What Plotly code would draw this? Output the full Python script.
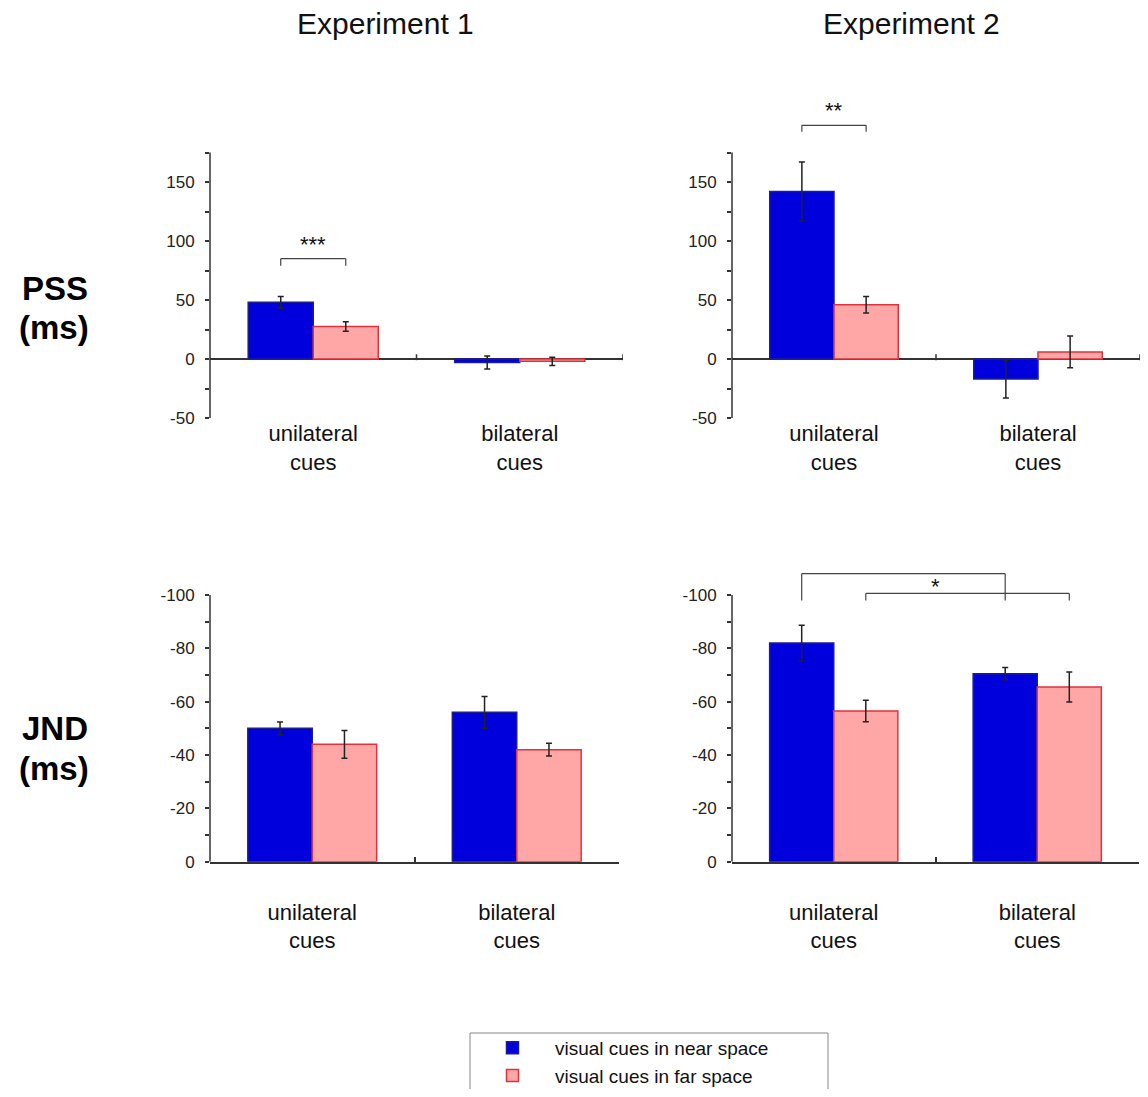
import plotly.graph_objects as go

PAGE_W, PAGE_H = 1148, 1097
BODY = 8  # default page margin around the plot div
W, H = PAGE_W - 2 * BODY, PAGE_H - 2 * BODY
FONT = "Arial, 'Liberation Sans', sans-serif"

# ---------------- data ----------------
categories = ["unilateral<br>cues", "bilateral<br>cues"]
series_names = ["visual cues in near space", "visual cues in far space"]
experiments = ["Experiment 1", "Experiment 2"]

pss_exp1_near = [48, -3]
pss_exp1_near_err = [5, 5.5]
pss_exp1_far = [27.5, -2]
pss_exp1_far_err = [4, 3.5]

pss_exp2_near = [142, -17]
pss_exp2_near_err = [25, 16]
pss_exp2_far = [46, 6]
pss_exp2_far_err = [7, 13.5]

jnd_exp1_near = [-50, -56]
jnd_exp1_near_err = [2.4, 6]
jnd_exp1_far = [-44, -42]
jnd_exp1_far_err = [5.2, 2.4]

jnd_exp2_near = [-82, -70.5]
jnd_exp2_near_err = [6.7, 2.3]
jnd_exp2_far = [-56.5, -65.5]
jnd_exp2_far_err = [4, 5.6]

pss_tickvals = [-50, 0, 50, 100, 150]
pss_minor_tickvals = [-25, 25, 75, 125, 175]
jnd_tickvals = [-100, -80, -60, -40, -20, 0]
jnd_minor_tickvals = [-90, -70, -50, -30, -10]

# ---------------- style ----------------
NEAR_FILL, NEAR_LINE = "#0000dc", "#1c1c96"
FAR_FILL, FAR_LINE = "#ffa6a6", "#e0323c"
AX = "#333333"
BARGAP = 0.37
HALF = (1 - BARGAP) / 4  # offset of a bar centre from its category centre


def px_x(p):
    """page pixel -> paper fraction"""
    return min(1.0, max(0.0, (p - BODY) / W))


def px_y(p):
    return 1 - (p - BODY) / H


panels = [
    (pss_exp1_near, pss_exp1_near_err, pss_exp1_far, pss_exp1_far_err, (210, 623), "pss"),
    (pss_exp2_near, pss_exp2_near_err, pss_exp2_far, pss_exp2_far_err, (732, 1140), "pss"),
    (jnd_exp1_near, jnd_exp1_near_err, jnd_exp1_far, jnd_exp1_far_err, (210, 619), "jnd"),
    (jnd_exp2_near, jnd_exp2_near_err, jnd_exp2_far, jnd_exp2_far_err, (732, 1139), "jnd"),
]

# vertical layout of the two rows (page pixel of value 0 and px per unit)
PSS_ZERO, PSS_SCALE, PSS_RANGE = 359, 59 / 50, [-50, 222]
JND_ZERO, JND_SCALE, JND_RANGE = 861.7, 53.33 / 20, [0, -112]

fig = go.Figure()
shapes = []
annotations = []

for k, (near, near_err, far, far_err, (xl, xr), kind) in enumerate(panels, start=1):
    xa = "x" if k == 1 else f"x{k}"
    ya = "y" if k == 1 else f"y{k}"
    for vals, errs, name, fill, line in [
        (near, near_err, series_names[0], NEAR_FILL, NEAR_LINE),
        (far, far_err, series_names[1], FAR_FILL, FAR_LINE),
    ]:
        fig.add_trace(go.Bar(
            x=categories, y=vals, name=name, xaxis=xa, yaxis=ya,
            marker=dict(color=fill, line=dict(color=line, width=1.5)),
            error_y=dict(type="data", array=errs, color="#222222", thickness=1.5, width=3),
            showlegend=(k == 1), legendgroup=name,
        ))

    if kind == "pss":
        zero, scale, rng = PSS_ZERO, PSS_SCALE, PSS_RANGE
        top_px = zero - rng[1] * scale
        bot_px = zero - rng[0] * scale
        tickvals, minor_vals = pss_tickvals, pss_minor_tickvals
        spine = (-50, 175)
    else:
        zero, scale, rng = JND_ZERO, JND_SCALE, JND_RANGE
        top_px = zero + rng[1] * scale
        bot_px = zero
        tickvals, minor_vals = jnd_tickvals, jnd_minor_tickvals
        spine = (0, -100)

    xkey = "xaxis" if k == 1 else f"xaxis{k}"
    ykey = "yaxis" if k == 1 else f"yaxis{k}"
    xaxis = dict(
        domain=[px_x(xl), px_x(xr)], type="category", range=[-0.5, 1.5],
        anchor=ya, showgrid=False, zeroline=False,
        tickfont=dict(size=22, color="#111111", family=FONT),
        fixedrange=True,
    )
    if kind == "pss":
        xaxis.update(showline=False, ticks="", ticklabelstandoff=0)
    else:
        xaxis.update(showline=True, linecolor=AX, linewidth=1.5, ticks="inside",
                     tickson="boundaries", ticklen=5, tickwidth=1.5, tickcolor=AX,
                     ticklabelstandoff=30)
    yaxis = dict(
        domain=[px_y(bot_px), px_y(top_px)], range=rng, anchor=xa,
        showgrid=False, showline=False,
        zeroline=(kind == "pss"), zerolinecolor=AX, zerolinewidth=1.5,
        tickmode="array", tickvals=tickvals, ticktext=[str(v) for v in tickvals],
        ticks="outside", ticklen=4, tickwidth=1.5, tickcolor=AX,
        minor=dict(tickmode="array", tickvals=minor_vals, ticks="outside",
                   ticklen=4, tickwidth=1.5, tickcolor=AX, showgrid=False),
        tickfont=dict(size=17, color="#222222", family=FONT),
        ticklabelstandoff=7, fixedrange=True,
    )
    fig.update_layout({xkey: xaxis, ykey: yaxis})

    # y spine limited to the labelled range
    shapes.append(dict(type="line", xref=f"{xa} domain", yref=ya, x0=0, x1=0,
                       y0=spine[0], y1=spine[1], line=dict(color=AX, width=1.5)))
    if kind == "pss":
        # small category-boundary ticks on the zero line
        for b in (0.5, 1.5):
            shapes.append(dict(type="line", xref=xa, yref=ya, x0=b, x1=b,
                               y0=-1, y1=4, line=dict(color=AX, width=1.5)))


def bracket(xa, ya, xleft, xright, ytop, yend):
    for seg in [(xleft, yend, xleft, ytop), (xleft, ytop, xright, ytop), (xright, ytop, xright, yend)]:
        shapes.append(dict(type="line", xref=xa, yref=ya, x0=seg[0], y0=seg[1],
                           x1=seg[2], y1=seg[3], line=dict(color="#444444", width=1.2)))


def stars(xa, ya, x, y, text):
    annotations.append(dict(xref=xa, yref=ya, x=x, y=y, text=text, showarrow=False,
                            yshift=-2, font=dict(size=22, color="#111111", family=FONT)))


# significance markers
bracket("x", "y", 0 - HALF, 0 + HALF, 85, 79)
stars("x", "y", 0, 98.7, "***")
bracket("x2", "y2", 0 - HALF, 0 + HALF, 198, 192.5)
stars("x2", "y2", 0, 212.7, "**")
bracket("x4", "y4", 0 - HALF, 1 - HALF, -108, -98)
bracket("x4", "y4", 0 + HALF, 1 + HALF, -100.6, -98)
stars("x4", "y4", 0.5, -104.1, "*")

# column titles and row labels
for text, cx in zip(experiments, (385, 911)):
    annotations.append(dict(xref="paper", yref="paper", x=px_x(cx), y=px_y(24),
                            text=text, showarrow=False, xanchor="center", yanchor="middle",
                            font=dict(size=30, color="#111111", family=FONT)))
for text, cx, cy in [("<b>PSS</b>", 55, 288.5), ("<b>(ms)</b>", 54, 328),
                     ("<b>JND</b>", 55, 728.5), ("<b>(ms)</b>", 54, 768)]:
    annotations.append(dict(xref="paper", yref="paper", x=px_x(cx), y=px_y(cy),
                            text=text, showarrow=False, xanchor="center", yanchor="middle",
                            font=dict(size=33, color="#000000", family=FONT)))

# legend frame (runs off the bottom edge as in the reference)
shapes.append(dict(type="rect", xref="paper", yref="paper",
                   x0=px_x(470), x1=px_x(828), y0=px_y(1033), y1=px_y(1110),
                   line=dict(color="#888888", width=1), fillcolor="rgba(0,0,0,0)", layer="below"))

fig.update_layout(
    width=W, height=H,
    margin=dict(l=0, r=0, t=0, b=0, autoexpand=False),
    paper_bgcolor="white", plot_bgcolor="rgba(0,0,0,0)",
    barmode="group", bargap=BARGAP, bargroupgap=0,
    shapes=shapes, annotations=annotations,
    font=dict(family=FONT, color="#111111"),
    legend=dict(x=px_x(470), y=px_y(1029), xanchor="left", yanchor="top",
                borderwidth=0, bgcolor="rgba(0,0,0,0)",
                font=dict(size=19, family=FONT, color="#111111"),
                itemwidth=75, tracegroupgap=0),
    showlegend=True,
)

fig.write_html("out.html")
